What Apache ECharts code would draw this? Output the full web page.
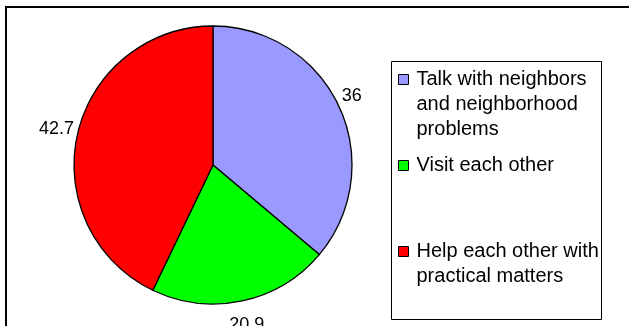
<!DOCTYPE html>
<html>
<head>
<meta charset="utf-8">
<script src="https://cdn.jsdelivr.net/npm/echarts@6/dist/echarts.min.js"></script>
<style>
  html, body { margin: 0; padding: 0; background: #ffffff; }
  #chart { width: 629px; height: 326px; }
</style>
</head>
<body>
<div id="chart"></div>
<script>
const categories = [
  'Talk with neighbors and neighborhood problems',
  'Visit each other',
  'Help each other with practical matters'
];
const values = [36, 20.9, 42.7];
const colors = ['#9999FF', '#00FF00', '#FF0000'];
const legendLines = [
  ['Talk with neighbors', 'and neighborhood', 'problems'],
  ['Visit each other'],
  ['Help each other with', 'practical matters']
];

const FONT = '"Liberation Sans", Arial, sans-serif';
const CX = 213, CY = 165, R = 139;
const total = values.reduce((a, b) => a + b, 0);

// Legend text padded with blank lines so the first line sits beside the icon
function legendText(name) {
  const i = categories.indexOf(name);
  const lines = legendLines[i];
  if (lines.length === 1) return lines[0];
  const after = lines.length - 1;
  const pre = [];
  for (let k = 0; k < after; k++) pre.push('');
  const all = pre.concat(lines);
  while (all.length < 5) { all.unshift(''); all.push(''); }
  return all.join('\n');
}

const chart = echarts.init(document.getElementById('chart'), null, { renderer: 'canvas' });
chart.setOption({
  animation: false,
  backgroundColor: '#ffffff',
  color: colors,
  graphic: [
    {
      type: 'rect', silent: true, z: 0,
      shape: { x: 6, y: 7, width: 700, height: 400 },
      style: { fill: 'none', stroke: '#000', lineWidth: 2 }
    },
    {
      type: 'rect', silent: true, z: 0,
      shape: { x: 391.5, y: 61.5, width: 210, height: 258 },
      style: { fill: '#fff', stroke: '#000', lineWidth: 1 }
    }
  ],
  legend: {
    orient: 'vertical',
    left: 398,
    top: 17,
    padding: 0,
    itemGap: 11,
    itemWidth: 10,
    itemHeight: 10,
    icon: 'rect',
    selectedMode: false,
    z: 5,
    data: categories,
    formatter: legendText,
    itemStyle: { borderColor: '#000', borderWidth: 1 },
    textStyle: {
      fontFamily: FONT,
      fontSize: 20,
      lineHeight: 25,
      color: '#000',
      padding: [0, 0, 0, 3]
    }
  },
  series: [{
    type: 'pie',
    center: [CX, CY],
    radius: R,
    startAngle: 90,
    clockwise: true,
    silent: true,
    avoidLabelOverlap: false,
    data: categories.map((n, i) => ({ name: n, value: values[i] })),
    itemStyle: { borderColor: '#000', borderWidth: 1.3 },
    emphasis: { disabled: true },
    label: {
      show: true,
      position: 'outside',
      formatter: '{c}',
      fontFamily: FONT,
      fontSize: 18,
      color: '#000'
    },
    labelLine: { show: false },
    labelLayout: function (params) {
      const i = params.dataIndex;
      let start = 0;
      for (let k = 0; k < i; k++) start += values[k];
      const mid = (start + values[i] / 2) / total * Math.PI * 2;
      const halfW = params.labelRect ? params.labelRect.width / 2 : 10;
      return {
        x: CX + Math.sin(mid) * (R + halfW + 4),
        y: CY - Math.cos(mid) * 164,
        align: 'center',
        verticalAlign: 'middle'
      };
    }
  }]
});
</script>
</body>
</html>
